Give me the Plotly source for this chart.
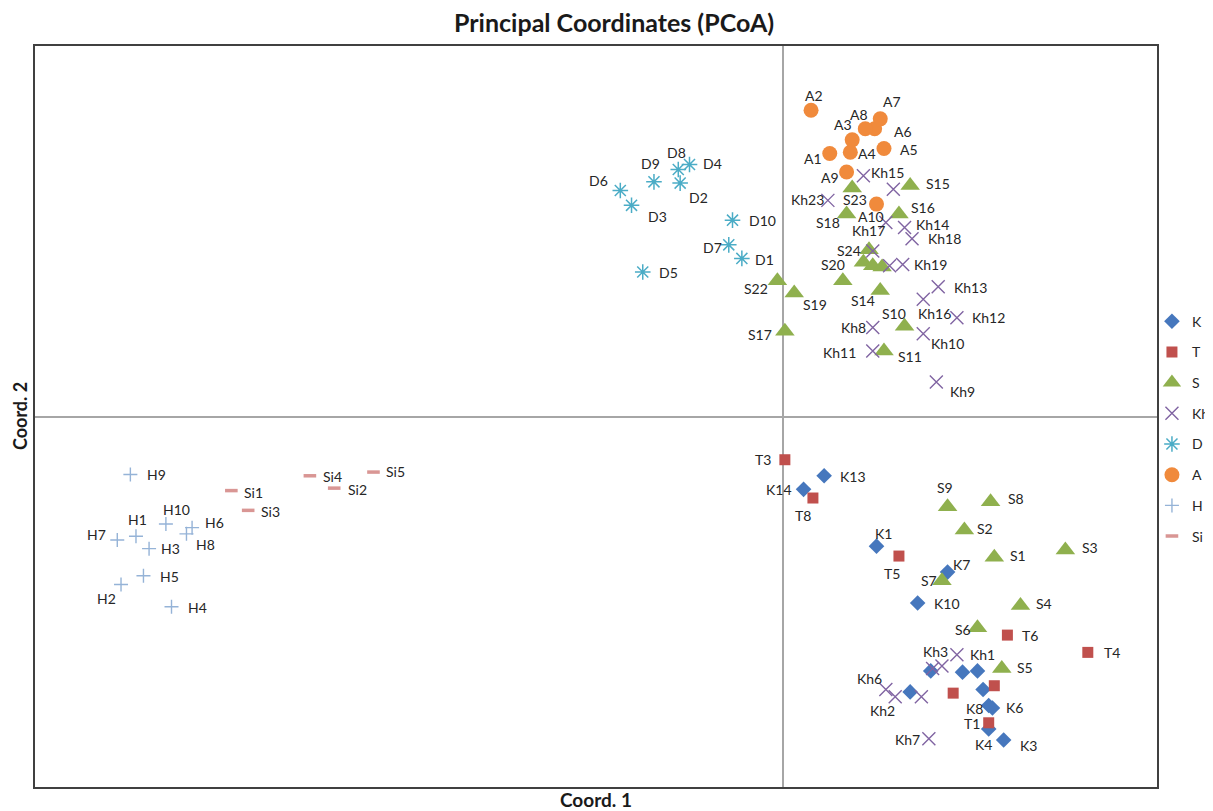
import plotly.graph_objects as go

# ---------------- data (Coord. 1 / Coord. 2) ----------------
k_labels = ["K1", "K2", "K3", "K4", "K5", "K6", "K7", "K8", "K9", "K10", "K11", "K12", "K13", "K14"]
k_x = [0.050, 0.079, 0.118, 0.110, 0.096, 0.112, 0.088, 0.110, 0.104, 0.072, 0.068, 0.107, 0.022, 0.011]
k_y = [-0.105, -0.206, -0.262, -0.253, -0.207, -0.236, -0.126, -0.234, -0.206, -0.151, -0.223, -0.221, -0.048, -0.059]

t_labels = ["T1", "T2", "T3", "T4", "T5", "T6", "T7", "T8"]
t_x = [0.110, 0.091, 0.001, 0.163, 0.062, 0.120, 0.113, 0.016]
t_y = [-0.248, -0.224, -0.035, -0.191, -0.113, -0.177, -0.218, -0.066]

s_labels = ["S1", "S2", "S3", "S4", "S5", "S6", "S7", "S8", "S9", "S10", "S11", "S12",
            "S13", "S14", "S15", "S16", "S17", "S18", "S19", "S20", "S21", "S22", "S23", "S24"]
s_x = [0.113, 0.097, 0.151, 0.127, 0.117, 0.104, 0.085, 0.111, 0.088, 0.065, 0.054, 0.043,
       0.048, 0.052, 0.068, 0.062, 0.001, 0.034, 0.006, 0.032, 0.053, -0.003, 0.037, 0.046]
s_y = [-0.114, -0.092, -0.108, -0.153, -0.204, -0.171, -0.133, -0.069, -0.073, 0.073, 0.053, 0.125,
       0.122, 0.102, 0.187, 0.164, 0.069, 0.164, 0.100, 0.110, 0.121, 0.110, 0.185, 0.135]

kh_labels = ["Kh1", "Kh2", "Kh3", "Kh4", "Kh5", "Kh6", "Kh7", "Kh8", "Kh9", "Kh10", "Kh11", "Kh12",
             "Kh13", "Kh14", "Kh15", "Kh16", "Kh17", "Kh18", "Kh19", "Kh20", "Kh21", "Kh22", "Kh23"]
kh_x = [0.085, 0.060, 0.093, 0.059, 0.048, 0.055, 0.078, 0.048, 0.082, 0.075, 0.048, 0.093,
        0.083, 0.065, 0.043, 0.075, 0.055, 0.069, 0.064, 0.057, 0.080, 0.074, 0.024]
kh_y = [-0.202, -0.227, -0.193, 0.184, 0.134, -0.221, -0.261, 0.072, 0.028, 0.067, 0.053, 0.080,
        0.105, 0.153, 0.195, 0.095, 0.157, 0.144, 0.123, 0.122, -0.204, -0.227, 0.175]

d_labels = ["D1", "D2", "D3", "D4", "D5", "D6", "D7", "D8", "D9", "D10"]
d_x = [-0.022, -0.055, -0.081, -0.050, -0.075, -0.087, -0.029, -0.056, -0.069, -0.027]
d_y = [0.128, 0.189, 0.171, 0.204, 0.117, 0.183, 0.139, 0.200, 0.190, 0.159]

a_labels = ["A1", "A2", "A3", "A4", "A5", "A6", "A7", "A8", "A9", "A10"]
a_x = [0.025, 0.015, 0.037, 0.036, 0.054, 0.049, 0.052, 0.044, 0.034, 0.050]
a_y = [0.213, 0.248, 0.224, 0.214, 0.217, 0.233, 0.241, 0.233, 0.198, 0.172]

h_labels = ["H1", "H2", "H3", "H4", "H5", "H6", "H7", "H8", "H9", "H10"]
h_x = [-0.346, -0.354, -0.339, -0.327, -0.342, -0.316, -0.356, -0.319, -0.349, -0.330]
h_y = [-0.097, -0.136, -0.107, -0.154, -0.129, -0.090, -0.100, -0.095, -0.047, -0.087]

si_labels = ["Si1", "Si2", "Si3", "Si4", "Si5"]
si_x = [-0.295, -0.240, -0.286, -0.253, -0.219]
si_y = [-0.060, -0.058, -0.076, -0.048, -0.045]

# ---------------- styles ----------------
series = [
    ("K", k_labels, k_x, k_y, dict(symbol="diamond", size=12, color="#4677BD", line=dict(width=0))),
    ("T", t_labels, t_x, t_y, dict(symbol="square", size=11, color="#C0504D", line=dict(width=0))),
    ("S", s_labels, s_x, s_y, dict(symbol="triangle-up", size=17, color="#8FB04E", line=dict(width=0))),
    ("Kh", kh_labels, kh_x, kh_y, dict(symbol="x-thin-open", size=13, color="#8064A2",
                                      line=dict(width=1.4, color="#8064A2"))),
    ("D", d_labels, d_x, d_y, dict(symbol="asterisk-open", size=13, color="#4BACC6",
                                  line=dict(width=1.5, color="#4BACC6"))),
    ("A", a_labels, a_x, a_y, dict(symbol="circle", size=15, color="#F08A3C", line=dict(width=0))),
    ("H", h_labels, h_x, h_y, dict(symbol="cross-thin-open", size=10, color="#95B3D7",
                                  line=dict(width=1.4, color="#95B3D7"))),
    ("Si", si_labels, si_x, si_y, dict(symbol="line-ew-open", size=9, color="#D99694",
                                      line=dict(width=3.5, color="#D99694"))),
]

# label placement (pixels: right, down) relative to marker; unlisted points are unlabeled
label_offsets = {
    "K1": (7, -13), "K3": (25, 5), "K4": (-5, 16), "K6": (22, 0), "K7": (14, -8), "K8": (-14, 3),
    "K10": (29, 1), "K13": (29, 1), "K14": (-25, 0),
    "T1": (-17, 1), "T3": (-22, 0), "T4": (24, 0), "T5": (-7, 17), "T6": (23, 0), "T8": (-10, 17),
    "S1": (24, -2), "S2": (21, -2), "S3": (25, -2), "S4": (24, -2), "S5": (23, -1), "S6": (-14, 2),
    "S7": (-13, 0), "S8": (25, -3), "S9": (-3, -19), "S10": (-11, -13), "S11": (26, 5),
    "S14": (-17, 10), "S15": (28, -2), "S16": (24, -6), "S17": (-25, 3), "S18": (-19, 9),
    "S19": (21, 11), "S20": (-10, -16), "S22": (-21, 8), "S23": (3, 11), "S24": (-20, 1),
    "Kh1": (41, -11), "Kh2": (-13, 14), "Kh3": (-21, -3), "Kh6": (-16, -11), "Kh7": (-21, 1),
    "Kh8": (-19, 0), "Kh9": (26, 10), "Kh10": (24, 10), "Kh11": (-33, 1), "Kh12": (32, 0),
    "Kh13": (32, 1), "Kh14": (28, -3), "Kh15": (24, -3), "Kh16": (11, 14), "Kh17": (-17, 8),
    "Kh18": (32, 0), "Kh19": (28, 0), "Kh23": (-20, -1),
    "D1": (23, 1), "D2": (18, 14), "D3": (26, 11), "D4": (23, -1), "D5": (26, 0), "D6": (-22, -10),
    "D7": (-16, 3), "D8": (-2, -17), "D9": (-3, -18), "D10": (30, 0),
    "A1": (-17, 5), "A2": (3, -15), "A3": (-9, -15), "A4": (17, 1), "A5": (25, 1), "A6": (28, 3),
    "A7": (12, -17), "A8": (-6, -14), "A9": (-17, 6), "A10": (-6, 12),
    "H1": (2, -17), "H2": (-15, 14), "H3": (21, 0), "H4": (26, 1), "H5": (26, 1), "H6": (22, -5),
    "H7": (-21, -6), "H8": (19, 11), "H9": (26, 0), "H10": (11, -14),
    "Si1": (22, 2), "Si2": (23, 1), "Si3": (22, 1), "Si4": (23, 1), "Si5": (22, -1),
}

FONT = "Lato, 'Noto Sans', sans-serif"

fig = go.Figure()
annotations = []
for name, labels, xs, ys, marker in series:
    fig.add_trace(go.Scatter(
        x=xs, y=ys, mode="markers", name=name, marker=marker,
        text=labels, hovertemplate="%{text}<br>(%{x}, %{y})<extra></extra>",
        legendgroup=name,
    ))
    for lab, xv, yv in zip(labels, xs, ys):
        if lab in label_offsets:
            dx, dy = label_offsets[lab]
            annotations.append(dict(
                x=xv, y=yv, xref="x", yref="y", text=lab, showarrow=False,
                xanchor="center", yanchor="middle", xshift=dx, yshift=-dy,
                font=dict(family=FONT, size=14, color="#262626"),
            ))

annotations.append(dict(x=0.5, y=-0.0175, xref="paper", yref="paper", text="<b>Coord. 1</b>",
                        showarrow=False, xanchor="center", yanchor="middle",
                        font=dict(family=FONT, size=19, color="#1a1a1a")))
annotations.append(dict(x=-0.0138, y=0.5, xref="paper", yref="paper", text="<b>Coord. 2</b>",
                        showarrow=False, xanchor="center", yanchor="middle", textangle=-90,
                        font=dict(family=FONT, size=18, color="#1a1a1a")))

axis_common = dict(showgrid=False, showticklabels=False, ticks="", zeroline=True,
                   zerolinecolor="#a6a6a6", zerolinewidth=1.5,
                   showline=True, mirror=True, linecolor="#404040", linewidth=2)

fig.update_layout(
    width=1205, height=803,
    paper_bgcolor="white", plot_bgcolor="white",
    margin=dict(l=27, r=56, t=38, b=24, autoexpand=False),
    title=dict(text="<b>Principal Coordinates (PCoA)</b>", x=0.503, xref="container",
               y=0.981, yref="container", xanchor="center", yanchor="middle",
               font=dict(family=FONT, size=25, color="#1a1a1a")),
    xaxis=dict(range=[-0.4, 0.2], **axis_common),
    yaxis=dict(range=[-0.3, 0.3], **axis_common),
    showlegend=True,
    legend=dict(x=0.9955, xanchor="left", y=0.483, yanchor="middle",
                traceorder="grouped", tracegroupgap=9.5,
                font=dict(family=FONT, size=14, color="#262626"),
                bgcolor="rgba(0,0,0,0)"),
    annotations=annotations,
)

fig.write_html("out.html")
